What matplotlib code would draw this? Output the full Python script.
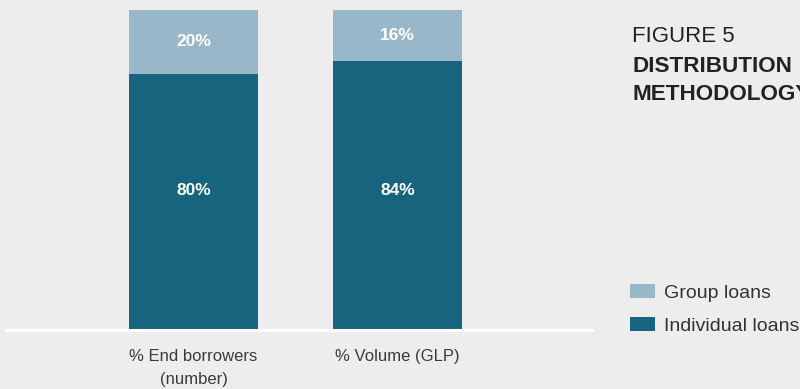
import matplotlib
matplotlib.use("Agg")
import matplotlib.pyplot as plt
from matplotlib.patches import Patch

# Shares by distribution methodology (%)
categories = ["% End borrowers\n(number)", "% Volume (GLP)"]
individual_loans = [80, 84]
group_loans = [20, 16]
series_names = ["Group loans", "Individual loans"]

BG = "#ededed"
DARK = "#16647e"
LIGHT = "#98b8c9"
FONT = ["Liberation Sans", "DejaVu Sans"]

plt.rcParams["font.family"] = FONT

fig = plt.figure(figsize=(8.0, 3.89), dpi=100, facecolor=BG)
ax = fig.add_axes([6 / 800, 1 - 330 / 389, 586 / 800, 320 / 389])
ax.set_facecolor(BG)

x = list(range(len(categories)))
width = 0.632
ax.bar(x, individual_loans, width=width, color=DARK, zorder=2)
ax.bar(x, group_loans, width=width, bottom=individual_loans, color=LIGHT, zorder=2)

for xi, ind, grp in zip(x, individual_loans, group_loans):
    ax.text(xi, 43.5, f"{ind}%", ha="center", va="center", color="white",
            fontsize=12.5, fontweight="bold")
    ax.text(xi, ind + grp / 2, f"{grp}%", ha="center", va="center", color="white",
            fontsize=12.5, fontweight="bold")

ax.set_xlim(-0.919, 1.953)
ax.set_ylim(0, 100)
for side in ("top", "right", "left"):
    ax.spines[side].set_visible(False)
ax.spines["bottom"].set_color("white")
ax.spines["bottom"].set_linewidth(2.2)
ax.spines["bottom"].set_zorder(3)
ax.set_yticks([])
ax.set_xticks(x)
ax.set_xticklabels(categories, fontsize=12, color="#3a3a3a", linespacing=1.62)
ax.tick_params(axis="x", length=0, pad=14)

# Figure heading
fig.text(632 / 800, 1 - 36 / 389, "FIGURE 5", fontsize=16, color="#222222",
         va="center", ha="left")
fig.text(632 / 800, 1 - 66 / 389, "DISTRIBUTION", fontsize=16.2, color="#222222",
         va="center", ha="left", fontweight="bold")
fig.text(632 / 800, 1 - 95 / 389, "METHODOLOGY", fontsize=16.2, color="#222222",
         va="center", ha="left", fontweight="bold")

handles = [Patch(facecolor=LIGHT, edgecolor="none"),
           Patch(facecolor=DARK, edgecolor="none")]
fig.legend(handles, series_names, loc="upper left",
           bbox_to_anchor=(628 / 800, 1 - 282 / 389), frameon=False,
           fontsize=14, handlelength=1.3, handleheight=0.75,
           handletextpad=0.45, labelspacing=0.78, labelcolor="#333333",
           borderaxespad=0, borderpad=0.1)

fig.savefig("out.png", dpi=100, facecolor=BG)
